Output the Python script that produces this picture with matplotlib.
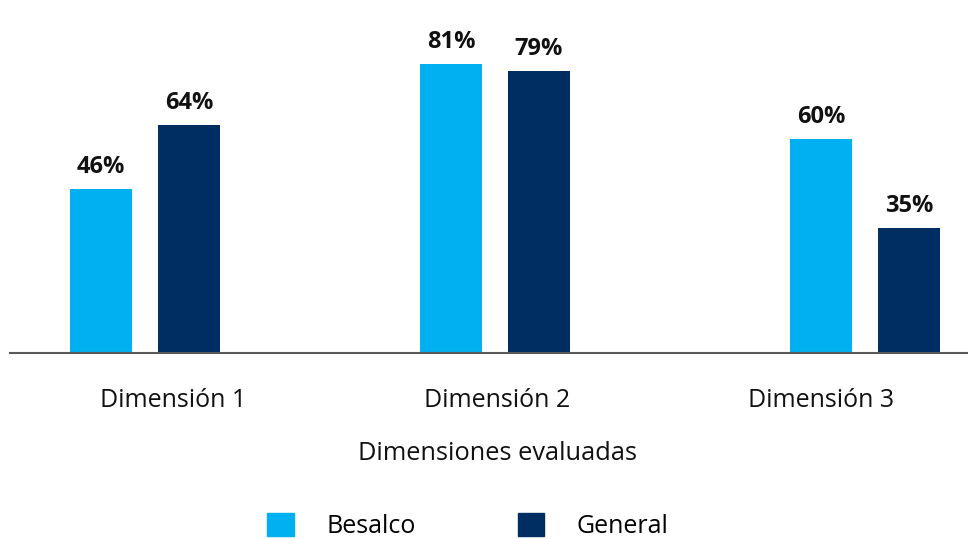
import matplotlib
matplotlib.use("Agg")
import matplotlib.pyplot as plt
from matplotlib.patches import Patch

categories = ["Dimensión 1", "Dimensión 2", "Dimensión 3"]
besalco = [46, 81, 60]
general = [64, 79, 35]
series_names = ["Besalco", "General"]
axis_title = "Dimensiones evaluadas"

col_b = "#00B0F0"
col_g = "#002D62"

plt.rcParams['font.family'] = ['Open Sans', 'DejaVu Sans']

W, H = 968, 539
fig = plt.figure(figsize=(W/100, H/100), dpi=100)
# axes from x=10px to right edge, y=0 (top) to baseline 353px
ax = fig.add_axes([10/W, 1-353/H, 1-10/W, 353/H])

group_shift = [-0.086, -0.006, 0.136]   # layout offsets of each group
half = 0.136
bw = 0.191
xs = list(range(len(categories)))
xb = [x + s - half for x, s in zip(xs, group_shift)]
xg = [x + s + half for x, s in zip(xs, group_shift)]

bars_b = ax.bar(xb, besalco, width=bw, color=col_b)
bars_g = ax.bar(xg, general, width=bw, color=col_g)
for bars in (bars_b, bars_g):
    ax.bar_label(bars, labels=[f"{v}%" for v in bars.datavalues], padding=7,
                 fontsize=17, fontweight='bold', color='#111111')

ax.set_xlim(-0.503, 2.454)
ax.set_ylim(0, 98.9)
ax.set_xticks(xs)
ax.set_xticklabels(categories, fontsize=18, color='#111111')
ax.tick_params(axis='x', length=0, pad=25)
ax.set_yticks([])
for s in ['top', 'right', 'left']:
    ax.spines[s].set_visible(False)
ax.spines['bottom'].set_color('#595959')
ax.spines['bottom'].set_linewidth(1.5)
ax.set_facecolor('none')

fig.text(497/W, 1-453/H, axis_title, ha='center', va='center', fontsize=18.3, color='#111111')

handles = [Patch(color=col_b), Patch(color=col_g)]
fig.legend(handles, series_names, loc='center', bbox_to_anchor=(468/W, 1-526/H),
           ncol=2, frameon=False, fontsize=18, handlelength=1.05, handleheight=1.05,
           handletextpad=1.3, columnspacing=4.1, borderpad=0.1)

fig.savefig("out.png", dpi=100)
